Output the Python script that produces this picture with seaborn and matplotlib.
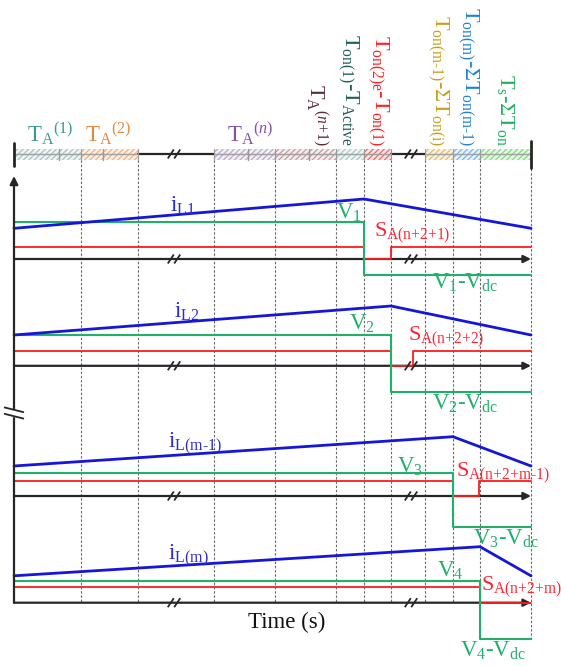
import matplotlib
matplotlib.use("Agg")
import matplotlib.pyplot as plt
import numpy as np
import pandas as pd
import seaborn as sns

sns.set_theme(style="white")
plt.rcParams["font.family"] = ["Liberation Serif", "DejaVu Serif"]
plt.rcParams["mathtext.fontset"] = "custom"
plt.rcParams["mathtext.rm"] = "Liberation Serif"
plt.rcParams["mathtext.it"] = "Liberation Serif:italic"
plt.rcParams["mathtext.bf"] = "Liberation Serif:bold"
plt.rcParams["hatch.linewidth"] = 0.9

HY = "\u2010"  # short hyphen used inside the labels

# ---------------- switching-interval bar (time units) ----------------
edges = [0, 67, 124, 200, 261, 322, 350, 377, 411, 439, 466, 517]
sub_ticks = [45, 89, 234, 295]
time_breaks = [160, 397]
# hatch colour per interval (None = compressed interval drawn as a plain line)
interval_colors = ["#a8c4c2", "#f0b080", None, "#bcaac8", "#c89aa4",
                   "#a6cccc", "#f06a6a", None, "#e2bd6a", "#7db6ea", "#7fdc7f"]

flat_labels = [r"$\mathrm{T_A{}^{(1)}}$", r"$\mathrm{T_A{}^{(2)}}$",
               r"$\mathrm{T_A{}^{(\mathit{n})}}$"]
flat_label_t = [36, 94, 236]
flat_label_colors = ["#3a9a94", "#e8873a", "#8450a8"]

rot_labels = [r"$\mathrm{T_A{}^{(\mathit{n}{+}1)}}$",
              r"$\mathrm{T_{on(1)}-T_{Active}}$",
              r"$\mathrm{T_{on(2)e}-T_{on(1)}}$",
              r"$\mathrm{T_{on(m-1)}-\Sigma T_{on(i)}}$",
              r"$\mathrm{T_{on(m)}-\Sigma T_{on(m-1)}}$",
              r"$\mathrm{T_s-\Sigma T_{on}}$"]
rot_label_t = [302, 334, 364, 424, 454, 492]
rot_label_colors = ["#5b2b3b", "#1e5f58", "#ff2020", "#c8a015", "#1e82d8", "#1fb25a"]

# ---------------- phase waveforms ----------------
phase_names = ["L1", "L2", "L(m-1)", "L(m)"]
v_names = ["1", "2", "3", "4"]
s_names = ["n+2+1", "n+2+2", "n+2+m-1", "n+2+m"]
baseline = [407.0, 300.2, 170.0, 63.3]      # zero level of each phase trace
i_valley = [30.7, 30.8, 30.0, 26.9]         # inductor current at start / end of period
i_peak = [60.0, 59.8, 59.3, 56.0]           # inductor current at turn-off
t_off = [350, 377, 439, 466]                # turn-off instant of each phase
v_high = [37.0, 30.8, 23.3, 22.0]           # V_k level
v_low = [-16.0, -25.9, -30.7, -36.6]        # V_k - V_dc level
s_high = [12.3, 15.3, 14.7, 15.7]           # gate signal level
t_s_return = [377, 398.7, 465.3, None]      # gate signal back on
t_end = 517

BLUE, GREEN, RED, AX = "#1616d8", "#1fb06a", "#ff1a1a", "#262626"

fig = plt.figure(figsize=(5.61, 6.66), dpi=100)
ax = fig.add_axes([0, 0, 1, 1])
ax.set_xlim(-14, 547)
ax.set_ylim(0, 666)
ax.axis("off")


def hy(s):
    return s.replace("-", HY)


def tight_plus(s):
    return s.replace("+", "{+}")


def break_mark(x, y, vertical=False, color=AX):
    for d in (-3.2, 3.2):
        if vertical:
            ax.plot([x - 10, x + 10], [y + d + 2.5, y + d - 2.5], color=color, lw=1.3,
                    solid_capstyle="butt", zorder=6)
        else:
            ax.plot([x + d - 3, x + d + 3], [y - 4.5, y + 4.5], color=color, lw=1.3,
                    solid_capstyle="butt", zorder=6)


# ----- interval bar -----
bar_y, bar_h = 512, 5.5
for k in range(len(edges) - 1):
    a, b = edges[k], edges[k + 1]
    c = interval_colors[k]
    if c is None:
        sns.lineplot(x=[a, b], y=[bar_y, bar_y], color=AX, lw=1.6, ax=ax)
    else:
        ax.fill_between([a, b], bar_y - bar_h, bar_y + bar_h,
                        facecolor=(*matplotlib.colors.to_rgb(c), 0.18),
                        edgecolor=c, hatch="//////", lw=0, zorder=2)
        ax.plot([a, b], [bar_y, bar_y], color="#a0a0a0", lw=1.0, zorder=3)
for t in sub_ticks:
    ax.plot([t, t], [bar_y - bar_h, bar_y + bar_h], color="#9a9a9a", lw=1.0, zorder=3)
for t in edges[1:-1]:
    ax.plot([t, t], [bar_y - bar_h, bar_y + bar_h], color="#9a9a9a", lw=0.8, zorder=3)
ax.plot([0, 0], [500, 523], color=AX, lw=2.0, zorder=5)
ax.plot([t_end, t_end], [498, 525], color=AX, lw=2.0, zorder=5)
for t in time_breaks:
    break_mark(t, bar_y)

for s, t, c in zip(flat_labels, flat_label_t, flat_label_colors):
    ax.text(t, 524, s, fontsize=16.5, color=c, ha="center", va="baseline")
for s, t, c in zip(rot_labels, rot_label_t, rot_label_colors):
    ax.text(t, 520, hy(s), fontsize=16, color=c, rotation=-90, ha="center", va="bottom")

# ----- dashed interval boundaries -----
for t in edges[1:]:
    bottom = 26 if t == t_end else 63
    ax.plot([t, t], [506, bottom], color="#6a6a6a", lw=0.8, ls=(0, (2.2, 1.6)), zorder=1)

# ----- vertical axis -----
ax.annotate("", xy=(0, 490), xytext=(0, baseline[-1]),
            arrowprops=dict(arrowstyle="-|>", color=AX, lw=1.6, mutation_scale=12,
                            shrinkA=0, shrinkB=0), zorder=4)
ax.fill_between([-6, 6], 250, 256, color="white", zorder=5)
break_mark(0, 253, vertical=True)

# ----- phase traces -----
i_label_pos = [(156, 460.5), (160, 354.3), (154.5, 222), (154.5, 110)]
v_label_pos = [(335, 453.5), (347.7, 342), (396, 199.3), (436, 95.3)]
s_label_pos = [(360, 433), (394.5, 329), (442, 193), (467, 79)]
vd_label_pos = [(417.6, 383), (417.6, 262), (459, 127), (446, 15.3)]

for k in range(4):
    b = baseline[k]
    ax.annotate("", xy=(t_end, b), xytext=(0, b),
                arrowprops=dict(arrowstyle="-|>", color=AX, lw=1.6, mutation_scale=11,
                                shrinkA=0, shrinkB=0), zorder=2)
    for t in time_breaks:
        break_mark(t, b)

    cur = pd.DataFrame({"t": [0, t_off[k], t_end],
                        "i": [b + i_valley[k], b + i_peak[k], b + i_valley[k]]})
    volt = pd.DataFrame({"t": [0, t_off[k], t_off[k], t_end],
                         "v": [b + v_high[k], b + v_high[k], b + v_low[k], b + v_low[k]]})
    if t_s_return[k] is not None:
        st = [0, t_off[k], t_off[k], t_s_return[k], t_s_return[k], t_end]
        sv = [s_high[k], s_high[k], 0, 0, s_high[k], s_high[k]]
    else:
        st = [0, t_off[k], t_off[k], t_end]
        sv = [s_high[k], s_high[k], 0, 0]
    gate = pd.DataFrame({"t": st, "s": [b + v for v in sv]})

    sns.lineplot(data=gate, x="t", y="s", sort=False, estimator=None, color=RED, lw=1.3, ax=ax)
    sns.lineplot(data=volt, x="t", y="v", sort=False, estimator=None, color=GREEN, lw=1.5, ax=ax)
    sns.lineplot(data=cur, x="t", y="i", sort=False, estimator=None, color=BLUE, lw=2.0, ax=ax)

    ax.text(*i_label_pos[k], hy(r"$\mathrm{i_{" + phase_names[k] + "}}$"), fontsize=16.5,
            color="#2a2ad6", ha="left", va="center")
    ax.text(*v_label_pos[k], r"$\mathrm{V_{" + v_names[k] + "}}$", fontsize=16.5,
            color=GREEN, ha="center", va="center")
    ax.text(*s_label_pos[k], tight_plus(hy(r"$\mathrm{S_{A(" + s_names[k] + ")}}$")),
            fontsize=16, color="#ff2638", ha="left", va="center")
    ax.text(*vd_label_pos[k], hy(r"$\mathrm{V_{" + v_names[k] + "}-V_{dc}}$"), fontsize=16.5,
            color=GREEN, ha="left", va="center")

ax.text(273, 44, "Time (s)", fontsize=16.5, color="#111111", ha="center", va="center")

ax.set_xlim(-14, 547)
ax.set_ylim(0, 666)
fig.savefig("out.png", dpi=100)
